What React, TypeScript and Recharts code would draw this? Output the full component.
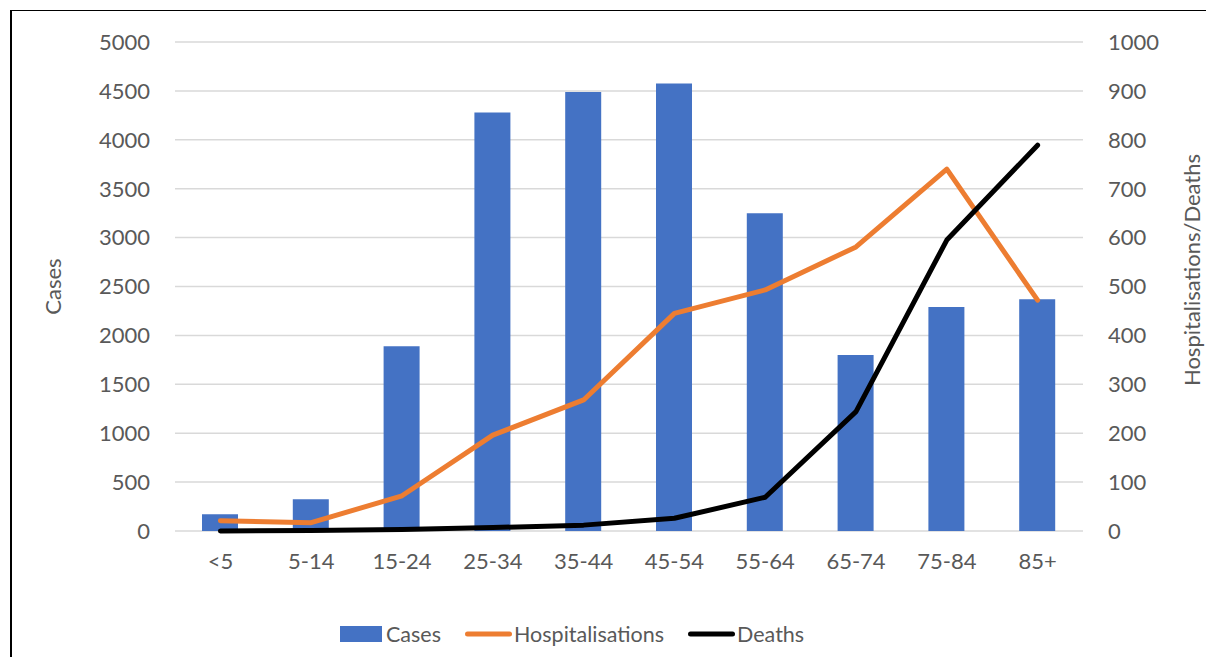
import { Bar, CartesianGrid, ComposedChart, Legend, Line, XAxis, YAxis } from "recharts";

const ageGroups = ["<5", "5-14", "15-24", "25-34", "35-44", "45-54", "55-64", "65-74", "75-84", "85+"];
const cases = [170, 325, 1890, 4280, 4490, 4575, 3250, 1800, 2290, 2370];
const hospitalisations = [21, 17, 72, 196, 268, 445, 493, 581, 740, 472];
const deaths = [0, 1, 3, 7, 12, 26, 69, 244, 595, 789];
const caseTicks = [0, 500, 1000, 1500, 2000, 2500, 3000, 3500, 4000, 4500, 5000];
const otherTicks = [0, 100, 200, 300, 400, 500, 600, 700, 800, 900, 1000];
const legendOrder = ["Cases", "Hospitalisations", "Deaths"];

const BLUE = "#4472C4";
const ORANGE = "#ED7D31";
const BLACK = "#000000";
const TEXT = "#595959";
const GRID = "#D9D9D9";

const data = ageGroups.map((age, i) => ({
  age,
  cases: cases[i],
  hosp: hospitalisations[i],
  deaths: deaths[i],
}));

const tickStyle = { fill: TEXT, fontSize: 22 };

function AxisTitle({ viewBox, text, dx, cy }: any) {
  const x = viewBox.x + dx;
  const y = cy ?? viewBox.y + viewBox.height / 2;
  return (
    <text x={x} y={y} transform={`rotate(-90 ${x} ${y})`} textAnchor="middle" dominantBaseline="central" fill={TEXT} fontSize={22}>
      {text}
    </text>
  );
}

function LegendRow({ payload }: any) {
  const items = [...(payload || [])].sort((a: any, b: any) => legendOrder.indexOf(a.value) - legendOrder.indexOf(b.value));
  return (
    <div style={{ display: "flex", alignItems: "center", height: 30, paddingLeft: 340, fontSize: 21.5, color: TEXT }}>
      {items.map((entry: any, i: number) => (
        <div key={entry.value} style={{ display: "flex", alignItems: "center", marginLeft: i === 0 ? 0 : 24 }}>
          {entry.type === "rect" ? (
            <span style={{ display: "inline-block", width: 42, height: 16, background: entry.color }} />
          ) : (
            <svg width={47} height={10}>
              <line x1={2.5} x2={44.5} y1={5} y2={5} stroke={entry.color} strokeWidth={5} strokeLinecap="round" />
            </svg>
          )}
          <span style={{ marginLeft: entry.type === "rect" ? 4 : 2 }}>{entry.value}</span>
        </div>
      ))}
    </div>
  );
}

export default function App() {
  return (
    <div style={{ fontFamily: "Lato, sans-serif" }}>
      <div
        style={{
          position: "absolute",
          left: 10,
          top: 10,
          width: 1196,
          height: 647,
          borderTop: "1px solid #000",
          borderLeft: "2px solid #000",
          boxSizing: "border-box",
        }}
      />
      <div style={{ position: "absolute", left: 0, top: 0 }}>
        <ComposedChart width={1206} height={657} data={data} margin={{ top: 42, right: 0, left: 0, bottom: 8 }}>
          <CartesianGrid yAxisId="left" vertical={false} stroke={GRID} strokeWidth={1.5} />
          <XAxis dataKey="age" axisLine={false} tickLine={false} tick={tickStyle} tickMargin={16} height={88} interval={0} />
          <YAxis
            yAxisId="left"
            domain={[0, 5000]}
            ticks={caseTicks}
            width={175}
            axisLine={false}
            tickLine={false}
            tick={tickStyle}
            tickMargin={19}
            label={(props: any) => <AxisTitle {...props} text="Cases" dx={52} />}
          />
          <YAxis
            yAxisId="right"
            orientation="right"
            domain={[0, 1000]}
            ticks={otherTicks}
            width={123}
            axisLine={false}
            tickLine={false}
            tick={{ ...tickStyle, textAnchor: "start" }}
            tickMargin={19}
            label={(props: any) => <AxisTitle {...props} text="Hospitalisations/Deaths" dx={108} cy={270} />}
          />
          <Legend
            verticalAlign="bottom"
            wrapperStyle={{ left: 0, width: 1206, bottom: 8 }}
            content={(props: any) => <LegendRow {...props} />}
          />
          <Bar yAxisId="left" dataKey="cases" name="Cases" fill={BLUE} barSize={36} legendType="rect" isAnimationActive={false} />
          <Line
            yAxisId="right"
            type="linear"
            dataKey="hosp"
            name="Hospitalisations"
            stroke={ORANGE}
            strokeWidth={5}
            strokeLinecap="round"
            strokeLinejoin="round"
            dot={false}
            activeDot={false}
            legendType="line"
            isAnimationActive={false}
          />
          <Line
            yAxisId="right"
            type="linear"
            dataKey="deaths"
            name="Deaths"
            stroke={BLACK}
            strokeWidth={5}
            strokeLinecap="round"
            strokeLinejoin="round"
            dot={false}
            activeDot={false}
            legendType="line"
            isAnimationActive={false}
          />
        </ComposedChart>
      </div>
    </div>
  );
}
